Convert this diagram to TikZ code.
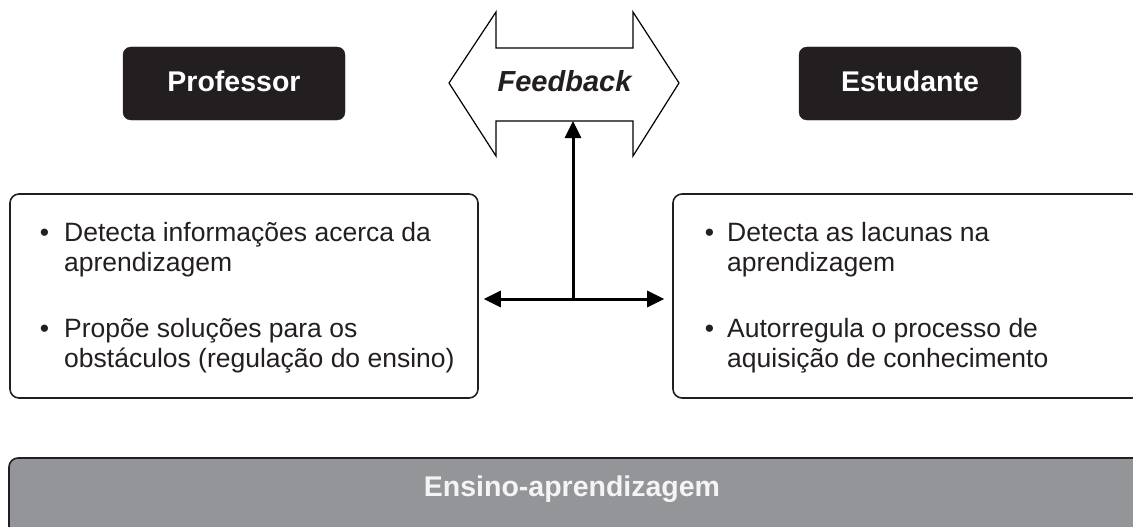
\documentclass[tikz,border=0pt]{standalone}
\usepackage{fontspec}
\setmainfont{Liberation Sans}
\usetikzlibrary{arrows.meta}
\definecolor{ink}{HTML}{231F20}
\definecolor{bargray}{HTML}{939598}
\definecolor{bartext}{HTML}{F4F4F5}
\begin{document}
\begin{tikzpicture}[x=1pt,y=-1pt,
  role/.style={fill=ink, draw=ink, rounded corners=8pt, minimum width=222pt, minimum height=73pt,
    inner sep=0pt, text=white, font=\fontsize{28.5}{34}\selectfont\bfseries, text height=17pt, text depth=0pt},
  infobox/.style={draw=ink, line width=1.6pt, rounded corners=9pt, fill=white,
    minimum width=468pt, minimum height=204pt, inner sep=0pt},
  barbox/.style={draw=ink, line width=1.6pt, rounded corners=9pt, fill=bargray,
    minimum width=1136pt, minimum height=82pt, inner sep=0pt},
  item/.style={anchor=base west, inner sep=0pt, text=ink, font=\fontsize{26.5}{30.5}\selectfont},
  link/.style={line width=3pt, -{Triangle[length=17pt,width=16pt]}},
  dlink/.style={line width=3pt, {Triangle[length=17pt,width=16pt]}-{Triangle[length=17pt,width=16pt]}},
  fbarrow/.style={draw=black, line width=1.2pt, line join=miter, fill=white},
]
\useasboundingbox (0,0) rectangle (1133,527);

% role boxes
\node (prof) [role] at (234,83.5) {Professor};
\node (est)  [role] at (910,83.5) {Estudante};

% feedback double arrow
\draw[fbarrow] (449,83) -- (496,12) -- (496,48) -- (633,48) -- (633,12) -- (679,83)
  -- (633,156) -- (633,121) -- (496,121) -- (496,156) -- cycle;
\node (fb) at (564.5,84.5) [font=\fontsize{29}{34}\selectfont\bfseries\itshape,
  text height=15pt, text depth=0pt, inner sep=0pt, text=ink] {Feedback};

% info boxes
\node (lbox) [infobox] at (244,296) {};
\node (rbox) [infobox] at (907,296) {};

\node (l1) [item] at (64,241) {\llap{\textbullet\hspace{15pt}}\parbox[t]{410pt}{Detecta informações acerca da\\aprendizagem}};
\node (l2) [item] at (64,337) {\llap{\textbullet\hspace{15pt}}\parbox[t]{410pt}{Propõe soluções para os\\obstáculos (regulação do ensino)}};
\node (r1) [item] at (727,241) {\llap{\textbullet\hspace{13pt}}\parbox[t]{400pt}{Detecta as lacunas na\\aprendizagem}};
\node (r2) [item] at (727,337) {\llap{\textbullet\hspace{13pt}}\parbox[t]{400pt}{Autorregula o processo de\\aquisição de conhecimento}};

% connectors
\coordinate (fbbot) at (573,121);
\coordinate (hub) at (573,299);
\draw[link] (hub) -- (fbbot);
\draw[dlink, shorten <=5pt, shorten >=8pt] (lbox.east |- hub) -- (rbox.west |- hub);

% bottom bar
\node (bar) [barbox] at (577,499) {};
\node (bart) [anchor=base, inner sep=0pt, text=bartext, font=\fontsize{28.5}{34}\selectfont\bfseries] at (572,496) {Ensino-aprendizagem};
\end{tikzpicture}
\end{document}
